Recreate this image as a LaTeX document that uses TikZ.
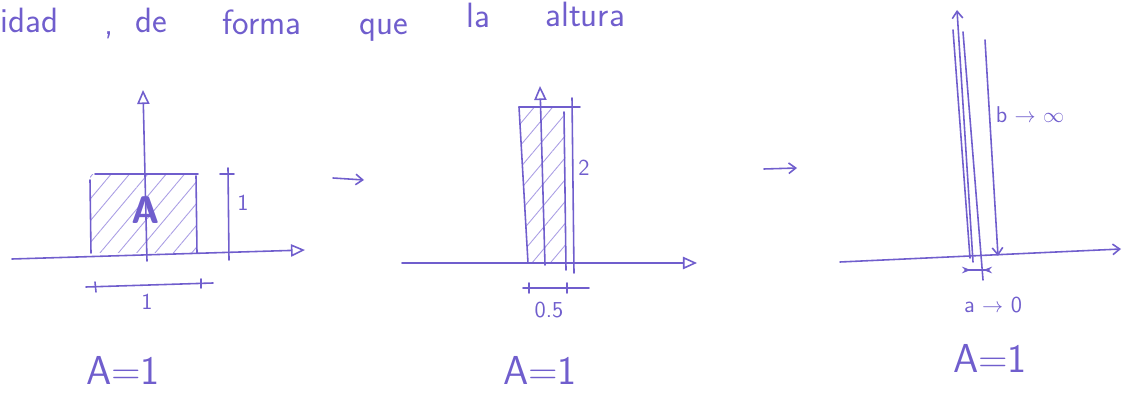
\documentclass[tikz,border=0pt]{standalone}
\usetikzlibrary{arrows.meta,patterns.meta}
\definecolor{pen}{RGB}{112,94,205}
\definecolor{penpale}{RGB}{170,158,228}

\tikzset{
  ink/.style={draw=pen,line width=0.9pt,line cap=round},
  axisline/.style={ink,-{Triangle[open,length=8pt,width=7pt]}},
  thinaxis/.style={ink,-{Straight Barb[length=4pt,width=6pt]}},
  hatched/.style={pattern={Lines[angle=50,distance=8pt,line width=0.5pt]},pattern color=penpale},
  hand/.style={text=pen,font=\sffamily\fontsize{13}{15}\selectfont,inner sep=1pt},
  handbig/.style={text=pen,font=\sffamily\fontsize{23}{25}\selectfont,inner sep=1pt},
  handword/.style={text=pen,font=\sffamily\fontsize{20}{22}\selectfont,inner sep=0pt,anchor=base west},
}

\begin{document}
\begin{tikzpicture}[x=0.02cm,y=-0.02cm]
  \useasboundingbox (0,0) rectangle (1128,394);
  \clip (0,0) rectangle (1128,394);
  % sentence at the page top
  \node[handword] (w-idad) at (0,33) {idad};
  \node[handword] (w-comma) at (104,35) {,};
  \node[handword] (w-de) at (135,33) {de};
  \node[handword] (w-forma) at (222,35) {forma};
  \node[handword] (w-que) at (359,35) {que};
  \node[handword] (w-la) at (466,28) {la};
  \node[handword] (w-altura) at (545,27) {altura};

  % square, side 1
  \fill[hatched] (90,175) rectangle (196,253);
  \draw[ink] (90,180) -- (91,253);
  \draw[ink] (95,174) -- (198,174);
  \draw[ink] (196,176) -- (197,253);
  \draw[axisline] (12,259) -- (305,250);
  \draw[axisline] (147,261) -- (143,90);
  \node[handbig,font=\sffamily\bfseries\fontsize{22}{24}\selectfont] (area1) at (146,210) {A};
  \draw[ink] (228,168) -- (229,260);
  \draw[ink] (220,174) -- (234,174);
  \node[hand] (height1) at (243,203) {1};
  \draw[ink] (86,287) -- (213,283);
  \draw[ink] (95,282) -- (96,292);
  \draw[ink] (201,279) -- (201,288);
  \node[hand] (width1) at (147,302) {1};
  \node[handbig] (result1) at (123,370) {A=1};

  \draw[thinaxis] (333,178) -- (364,180);

  % thin strip, 0.5 by 2
  \fill[hatched] (519,107) -- (565,107) -- (566,263) -- (528,263) -- cycle;
  \draw[ink] (519,107) -- (528,263);
  \draw[ink] (564,112) -- (566,270);
  \draw[ink] (519,107) -- (580,107);
  \draw[axisline] (402,263) -- (697,263);
  \draw[axisline] (545,265) -- (540,86);
  \draw[ink] (572,98) -- (574,273);
  \node[hand] (height2) at (584,168) {2};
  \draw[ink] (523,288) -- (589,288);
  \draw[ink] (529,283) -- (529,293);
  \draw[ink] (567,283) -- (567,293);
  \node[hand] (width2) at (549,310) {0.5};
  \node[handbig] (result2) at (540,370) {A=1};

  \draw[thinaxis] (764,169) -- (797,168);

  % limit strip
  \draw[thinaxis] (840,262) -- (1121,249);
  \draw[thinaxis] (973,262) -- (957,10);
  \draw[ink] (953,30) -- (970,258);
  \draw[ink] (963,32) -- (983,280);
  \draw[thinaxis] (985,40) -- (998,256);
  \node[hand] (height3) at (1030,115) {b $\rightarrow$ $\infty$};
  \draw[ink,{Stealth[reversed,length=5pt]}-{Stealth[reversed,length=5pt]}] (962,270) -- (992,270);
  \node[hand] (width3) at (993,305) {a $\rightarrow$ 0};
  \node[handbig] (result3) at (990,358) {A=1};
\end{tikzpicture}
\end{document}
